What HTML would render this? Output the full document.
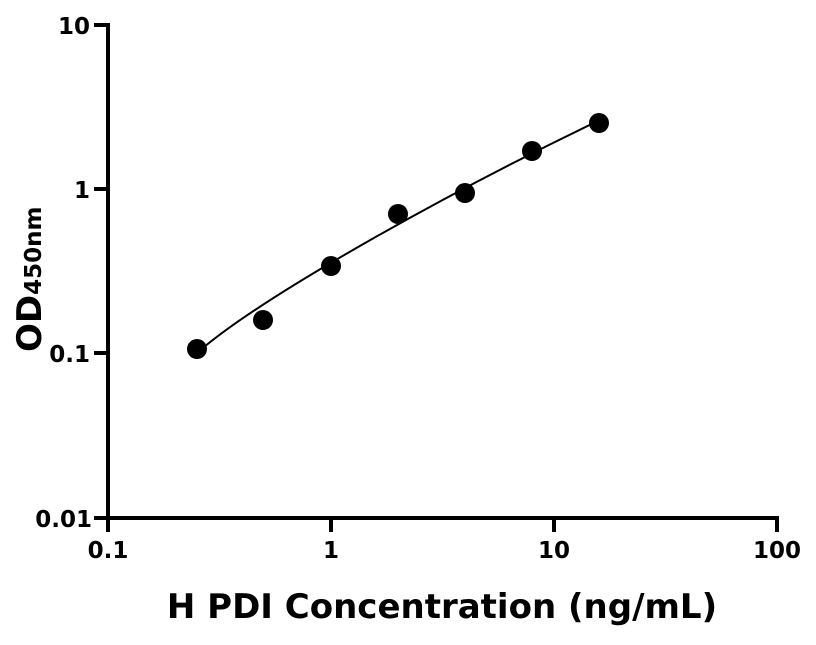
<!DOCTYPE html>
<html><head><meta charset="utf-8"><style>
body{margin:0;background:#fff;}
svg text{font-family:"DejaVu Sans","Liberation Sans",sans-serif;font-weight:bold;fill:#000;}
</style></head><body>
<svg width="816" height="640" viewBox="0 0 816 640" xmlns="http://www.w3.org/2000/svg">
<g stroke="#000" stroke-width="4" fill="none" stroke-linecap="butt">
<path d="M108,23 V520"/>
<path d="M106,518 H779"/>
<path d="M94,25 H108 M94,189 H108 M94,353 H108 M94,518 H108"/>
<path d="M108,518 V532 M331,518 V532 M554,518 V532 M777,518 V532"/>
</g>
<g font-size="23" text-anchor="end">
<text x="90" y="34">10</text>
<text x="90" y="198">1</text>
<text x="90" y="362">0.1</text>
<text x="92" y="527">0.01</text>
</g>
<g font-size="23" text-anchor="middle">
<text x="108" y="558">0.1</text>
<text x="331" y="558">1</text>
<text x="554" y="558">10</text>
<text x="777" y="558">100</text>
</g>
<text x="442" y="618" font-size="34" text-anchor="middle">H PDI Concentration (ng/mL)</text>
<text transform="translate(41,352) rotate(-90)" font-size="34">OD<tspan font-size="23">450nm</tspan></text>
<path d="M197,353 C262,296 450,192 600,120" stroke="#000" stroke-width="2" fill="none"/>
<g fill="#000">
<circle cx="197" cy="349" r="10"/>
<circle cx="263" cy="320" r="10"/>
<circle cx="331" cy="266" r="10"/>
<circle cx="398" cy="214" r="10"/>
<circle cx="465" cy="193" r="10"/>
<circle cx="532" cy="151" r="10"/>
<circle cx="599" cy="123" r="10"/>
</g>
</svg>
</body></html>
